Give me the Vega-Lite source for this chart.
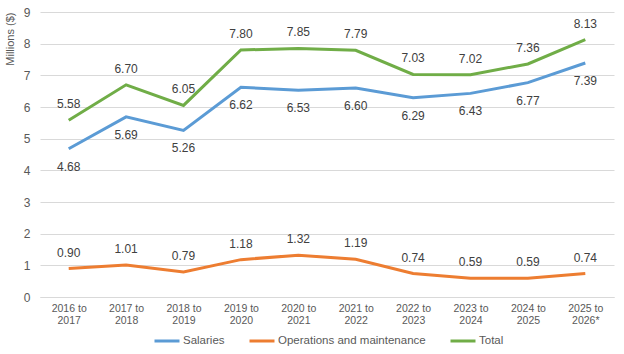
{
  "$schema": "https://vega.github.io/schema/vega-lite/v6.json",
  "width": 624,
  "height": 354,
  "autosize": {"type": "fit", "contains": "padding"},
  "padding": {"left": 4, "top": 6, "right": 10, "bottom": 28},
  "config": {
    "font": "Liberation Sans",
    "view": {"stroke": null},
    "axis": {"labelColor": "#595959", "titleColor": "#595959", "labelFontSize": 11, "titleFontSize": 11, "titleFontWeight": "normal"}
  },
  "data": {
    "values": [
      {"period": "2016 to 2017", "series": "Salaries", "value": 4.68},
      {"period": "2017 to 2018", "series": "Salaries", "value": 5.69},
      {"period": "2018 to 2019", "series": "Salaries", "value": 5.26},
      {"period": "2019 to 2020", "series": "Salaries", "value": 6.62},
      {"period": "2020 to 2021", "series": "Salaries", "value": 6.53},
      {"period": "2021 to 2022", "series": "Salaries", "value": 6.60},
      {"period": "2022 to 2023", "series": "Salaries", "value": 6.29},
      {"period": "2023 to 2024", "series": "Salaries", "value": 6.43},
      {"period": "2024 to 2025", "series": "Salaries", "value": 6.77},
      {"period": "2025 to 2026*", "series": "Salaries", "value": 7.39},
      {"period": "2016 to 2017", "series": "Operations and maintenance", "value": 0.90},
      {"period": "2017 to 2018", "series": "Operations and maintenance", "value": 1.01},
      {"period": "2018 to 2019", "series": "Operations and maintenance", "value": 0.79},
      {"period": "2019 to 2020", "series": "Operations and maintenance", "value": 1.18},
      {"period": "2020 to 2021", "series": "Operations and maintenance", "value": 1.32},
      {"period": "2021 to 2022", "series": "Operations and maintenance", "value": 1.19},
      {"period": "2022 to 2023", "series": "Operations and maintenance", "value": 0.74},
      {"period": "2023 to 2024", "series": "Operations and maintenance", "value": 0.59},
      {"period": "2024 to 2025", "series": "Operations and maintenance", "value": 0.59},
      {"period": "2025 to 2026*", "series": "Operations and maintenance", "value": 0.74},
      {"period": "2016 to 2017", "series": "Total", "value": 5.58},
      {"period": "2017 to 2018", "series": "Total", "value": 6.70},
      {"period": "2018 to 2019", "series": "Total", "value": 6.05},
      {"period": "2019 to 2020", "series": "Total", "value": 7.80},
      {"period": "2020 to 2021", "series": "Total", "value": 7.85},
      {"period": "2021 to 2022", "series": "Total", "value": 7.79},
      {"period": "2022 to 2023", "series": "Total", "value": 7.03},
      {"period": "2023 to 2024", "series": "Total", "value": 7.02},
      {"period": "2024 to 2025", "series": "Total", "value": 7.36},
      {"period": "2025 to 2026*", "series": "Total", "value": 8.13}
    ]
  },
  "encoding": {
    "x": {
      "field": "period", "type": "ordinal", "sort": null,
      "scale": {"type": "point", "padding": 0.5},
      "axis": {"title": null, "labelAngle": 0, "domain": true, "domainColor": "#d9d9d9", "ticks": false, "grid": false, "labelPadding": 6, "labelFontSize": 10.5,
        "labelExpr": "[slice(datum.label, 0, 7), slice(datum.label, 8)]"}
    },
    "y": {
      "field": "value", "type": "quantitative",
      "scale": {"domain": [0, 9]},
      "axis": {"title": "Millions ($)", "titleAnchor": "end", "tickCount": 9, "domain": false, "ticks": false, "gridColor": "#d9d9d9", "labelPadding": 10, "labelFontSize": 12, "titlePadding": 8}
    },
    "color": {
      "field": "series", "type": "nominal",
      "scale": {"domain": ["Salaries", "Operations and maintenance", "Total"], "range": ["#5B9BD5", "#ED7D31", "#70AD47"]},
      "legend": {"title": null, "orient": "none", "legendX": 113, "legendY": 315, "direction": "horizontal", "symbolType": "stroke", "symbolStrokeWidth": 3, "symbolSize": 625, "labelFontSize": 11.5, "labelColor": "#595959", "columnPadding": 18, "labelOffset": 2}
    }
  },
  "layer": [
    {"mark": {"type": "line", "strokeWidth": 3}},
    {
      "transform": [{"filter": "datum.series === 'Salaries'"}],
      "mark": {"type": "text", "dy": 18, "fontSize": 12, "color": "#404040"},
      "encoding": {"text": {"field": "value", "format": ".2f"}, "color": {"value": "#404040"}}
    },
    {
      "transform": [{"filter": "datum.series !== 'Salaries'"}],
      "mark": {"type": "text", "dy": -16, "fontSize": 12, "color": "#404040"},
      "encoding": {"text": {"field": "value", "format": ".2f"}, "color": {"value": "#404040"}}
    }
  ]
}
